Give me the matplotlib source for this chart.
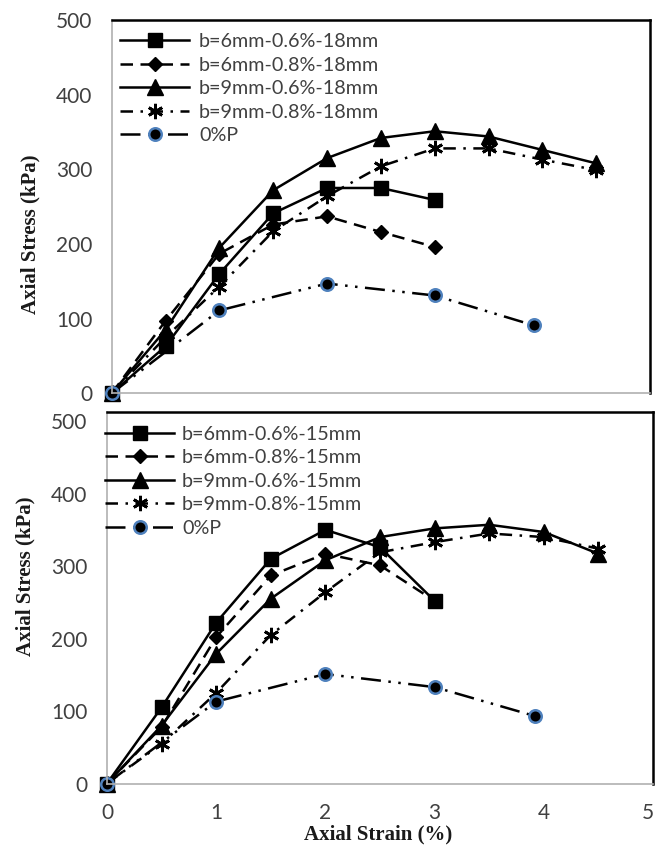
import matplotlib
matplotlib.use("Agg")
import matplotlib.pyplot as plt
from matplotlib.transforms import ScaledTranslation

# strain values (%)
strain_short = [0, 0.5, 1, 1.5, 2, 2.5, 3]
strain_long = [0, 0.5, 1, 1.5, 2, 2.5, 3, 3.5, 4, 4.5]
strain_plain = [0, 1, 2, 3, 3.92]

# top panel, 18mm (kPa)
b6_06_18 = [0, 63, 160, 241, 275, 275, 259]
b6_08_18 = [0, 97, 187, 226, 237, 216, 196]
b9_06_18 = [0, 85, 195, 272, 315, 342, 351, 344, 326, 308]
b9_08_18 = [0, 75, 143, 217, 264, 304, 328, 328, 313, 299]
plain_18 = [0, 111, 147, 131, 91]

# bottom panel, 15mm (kPa)
b6_06_15 = [0, 105, 222, 310, 350, 326, 252]
b6_08_15 = [0, 78, 202, 287, 317, 301, 252]
b9_06_15 = [0, 80, 179, 255, 308, 340, 352, 357, 347, 317]
b9_08_15 = [0, 55, 125, 205, 264, 319, 333, 345, 340, 324]
plain_15 = [0, 113, 151, 133, 93]

labels_18 = ["b=6mm-0.6%-18mm", "b=6mm-0.8%-18mm", "b=9mm-0.6%-18mm",
             "b=9mm-0.8%-18mm", "0%P"]
labels_15 = ["b=6mm-0.6%-15mm", "b=6mm-0.8%-15mm", "b=9mm-0.6%-15mm",
             "b=9mm-0.8%-15mm", "0%P"]

y_ticks = [0, 100, 200, 300, 400, 500]
x_ticks = [0, 1, 2, 3, 4, 5]

W, H = 656, 855
fig = plt.figure(figsize=(W / 100, H / 100), dpi=100)
ax1 = fig.add_axes([111.7 / W, (H - 393.3) / H, 538.3 / W, 373.3 / H])
ax2 = fig.add_axes([107 / W, (H - 783.5) / H, 546 / W, 371.8 / H])

lw = 1.8
blue = "#4f81bd"
txt = "#404040"


def draw(ax, ys, labels):
    s1, s2, s3, s4, s5 = ys
    ax.plot(strain_short, s1, color="black", lw=lw, marker="s", ms=10,
            label=labels[0], clip_on=False)
    ax.plot(strain_short, s2, color="black", lw=lw, marker="D", ms=7.5,
            dashes=(5, 3), label=labels[1], clip_on=False)
    ax.plot(strain_long, s3, color="black", lw=lw, marker="^", ms=11,
            label=labels[2], clip_on=False)
    ax.plot(strain_long, s4, color="black", lw=lw, marker=(6, 2, 0), ms=11,
            mew=2, dashes=(5, 3, 1, 3), label=labels[3], clip_on=False)
    ax.plot(strain_plain, s5, color="black", lw=lw, marker="o", ms=9,
            mfc="black", mec=blue, mew=1.8, dashes=(8, 3, 1, 3, 1, 3),
            label=labels[4], clip_on=False)
    ax.set_xlim(0, 5)
    ax.set_yticks(y_ticks)
    ax.set_xticks(x_ticks)
    ax.tick_params(length=0, labelsize=15, labelcolor=txt, pad=14)
    for lab in ax.get_xticklabels() + ax.get_yticklabels():
        lab.set_family("Lato")
    for side in ["top", "right"]:
        ax.spines[side].set_color("black")
        ax.spines[side].set_linewidth(1.8)
    for side in ["left", "bottom"]:
        ax.spines[side].set_color("#b0b0b0")
        ax.spines[side].set_linewidth(1.2)


draw(ax1, [b6_06_18, b6_08_18, b9_06_18, b9_08_18, plain_18], labels_18)
draw(ax2, [b6_06_15, b6_08_15, b9_06_15, b9_08_15, plain_15], labels_15)

ax1.set_ylim(0, 500)
ax2.set_ylim(0, 513)
ax1.tick_params(axis="x", labelbottom=False)

# the last strain label sits on the right edge, nudge it inside
last = ax2.get_xticklabels()[-1]
last.set_transform(last.get_transform() + ScaledTranslation(-5 / 100, 0, fig.dpi_scale_trans))

leg_font = {"family": "Lato", "size": 14.2}
l1 = ax1.legend(loc="upper left", bbox_to_anchor=(8.3 / 538.3, 1 - 13 / 373.3),
                frameon=False, borderpad=0, borderaxespad=0, prop=leg_font,
                handlelength=3.5, handletextpad=0.5, labelspacing=0.33)
l2 = ax2.legend(loc="upper left", bbox_to_anchor=(-2 / 546, 1 - 14 / 371.8),
                frameon=False, borderpad=0, borderaxespad=0, prop=leg_font,
                handlelength=3.5, handletextpad=0.4, labelspacing=0.33)
for lg in (l1, l2):
    for t in lg.get_texts():
        t.set_color(txt)

lab_font = dict(family="Liberation Serif", weight="bold", size=15, color="#1a1a1a")
fig.text(30 / W, 1 - 234 / H, "Axial Stress (kPa)", rotation=90,
         ha="center", va="center", **lab_font)
fig.text(25 / W, 1 - 576 / H, "Axial Stress (kPa)", rotation=90,
         ha="center", va="center", **lab_font)
fig.text(378 / W, 1 - 834 / H, "Axial Strain (%)", ha="center", va="center",
         **lab_font)

fig.savefig("out.png", dpi=100)
